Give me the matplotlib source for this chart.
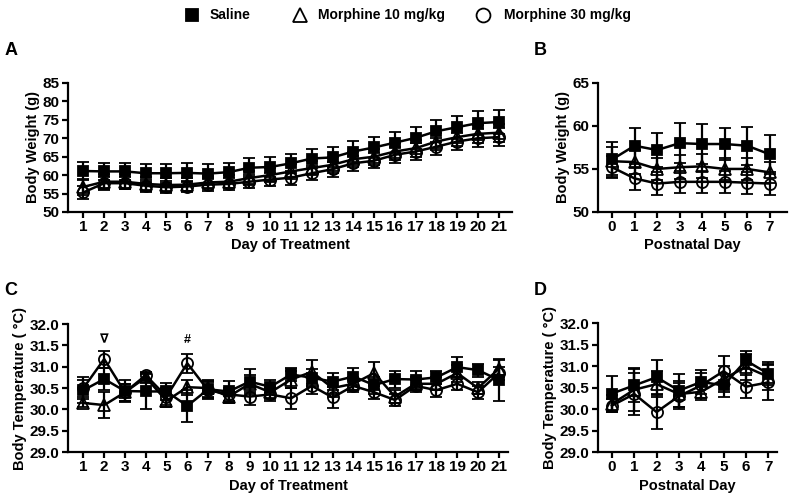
import matplotlib.pyplot as plt
from matplotlib.lines import Line2D
import numpy as np

plt.rcParams['font.family'] = ['Liberation Sans', 'DejaVu Sans']
plt.rcParams['font.weight'] = 'bold'

# ---- data ----
days_t = list(range(1, 22))
days_p = list(range(0, 8))

# A: body weight during treatment (g)
sal_w = [61.1, 61.0, 61.0, 60.5, 60.5, 60.6, 60.4, 60.8, 62.0, 62.2, 63.2, 64.5, 64.8,
         66.4, 67.5, 68.8, 70.1, 71.9, 73.0, 74.1, 74.4]
sal_w_err = [2.4, 2.3, 2.3, 2.4, 2.6, 2.6, 2.6, 2.6, 2.6, 2.6, 2.6, 2.7, 2.7,
             2.8, 2.9, 2.9, 3.0, 3.0, 3.1, 3.2, 3.3]
m10_w = [56.8, 58.2, 58.2, 57.6, 57.3, 57.4, 58.0, 58.2, 59.2, 60.0, 61.0, 61.9, 62.8,
         64.3, 65.0, 66.4, 67.3, 69.1, 70.3, 71.2, 71.5]
m10_w_err = [2.2, 2.0, 2.0, 1.8, 1.8, 1.8, 1.8, 1.8, 2.0, 2.0, 2.0, 2.0, 2.1,
             2.1, 2.2, 2.2, 2.3, 2.3, 2.4, 2.4, 2.5]
m30_w = [55.3, 57.8, 57.8, 57.1, 56.7, 56.9, 57.4, 57.6, 58.2, 58.8, 59.3, 60.5, 61.6,
         63.2, 63.9, 65.5, 66.4, 67.7, 69.1, 70.0, 70.3]
m30_w_err = [1.8, 1.8, 1.7, 1.6, 1.6, 1.6, 1.7, 1.7, 1.8, 1.8, 1.9, 1.9, 2.0,
             2.0, 2.0, 2.1, 2.2, 2.3, 2.4, 2.5, 2.5]

# B: body weight postnatal (g)
sal_pw = [56.1, 57.7, 57.2, 58.0, 57.9, 57.9, 57.7, 56.7]
sal_pw_err = [2.0, 2.1, 2.0, 2.3, 2.3, 1.9, 2.2, 2.3]
m10_pw = [55.9, 55.8, 55.0, 55.2, 55.3, 55.0, 55.0, 54.6]
m10_pw_err = [1.6, 1.4, 1.3, 1.4, 1.4, 1.3, 1.3, 1.2]
m30_pw = [55.2, 53.9, 53.3, 53.5, 53.5, 53.5, 53.4, 53.3]
m30_pw_err = [1.3, 1.3, 1.3, 1.3, 1.3, 1.3, 1.3, 1.3]

# C: body temperature during treatment (deg C)
sal_t = [30.45, 30.71, 30.43, 30.42, 30.42, 30.08, 30.47, 30.42, 30.65, 30.53, 30.82,
         30.74, 30.65, 30.77, 30.57, 30.71, 30.70, 30.75, 30.99, 30.92, 30.69]
sal_t_err = [0.30, 0.25, 0.25, 0.42, 0.20, 0.38, 0.20, 0.25, 0.30, 0.15, 0.15,
             0.20, 0.20, 0.20, 0.20, 0.20, 0.20, 0.15, 0.24, 0.15, 0.50]
m10_t = [30.15, 30.10, 30.40, 30.75, 30.20, 30.52, 30.50, 30.30, 30.60, 30.40, 30.70,
         30.88, 30.50, 30.60, 30.85, 30.30, 30.60, 30.60, 30.85, 30.50, 30.95]
m10_t_err = [0.10, 0.30, 0.20, 0.10, 0.15, 0.18, 0.20, 0.15, 0.20, 0.15, 0.20,
             0.28, 0.20, 0.15, 0.25, 0.15, 0.15, 0.15, 0.20, 0.15, 0.20]
m30_t = [30.50, 31.18, 30.40, 30.80, 30.30, 31.08, 30.45, 30.35, 30.30, 30.35, 30.26,
         30.55, 30.28, 30.55, 30.40, 30.22, 30.55, 30.45, 30.60, 30.40, 30.85]
m30_t_err = [0.20, 0.20, 0.20, 0.08, 0.20, 0.22, 0.20, 0.15, 0.20, 0.15, 0.25,
             0.20, 0.25, 0.15, 0.15, 0.15, 0.15, 0.15, 0.15, 0.15, 0.15]

# D: body temperature postnatal (deg C)
sal_pt = [30.36, 30.55, 30.74, 30.43, 30.63, 30.55, 31.13, 30.82]
sal_pt_err = [0.41, 0.39, 0.39, 0.39, 0.28, 0.27, 0.21, 0.27]
m10_pt = [30.12, 30.45, 30.58, 30.35, 30.40, 30.70, 30.98, 30.75]
m10_pt_err = [0.20, 0.50, 0.30, 0.30, 0.20, 0.30, 0.30, 0.30]
m30_pt = [30.08, 30.35, 29.93, 30.30, 30.55, 30.88, 30.52, 30.62]
m30_pt_err = [0.15, 0.50, 0.40, 0.30, 0.30, 0.35, 0.27, 0.40]

labels = ['Saline', 'Morphine 10 mg/kg', 'Morphine 30 mg/kg']

fig = plt.figure(figsize=(7.89, 4.94), dpi=100)
axA = fig.add_axes([0.086, 0.571, 0.563, 0.261])
axB = fig.add_axes([0.758, 0.571, 0.239, 0.261])
axC = fig.add_axes([0.086, 0.085, 0.558, 0.259])
axD = fig.add_axes([0.758, 0.085, 0.227, 0.261])

tick_fs = 11
lab_fs = 10.5

marker_styles = [
    dict(marker='s', ms=7, mfc='black'),
    dict(marker='^', ms=8, mfc='none'),
    dict(marker='o', ms=8, mfc='none'),
]


def draw(ax, x, series):
    for i, ((y, e), st) in enumerate(zip(series, marker_styles)):
        ax.errorbar(x, y, yerr=e, color='black', lw=1.8, marker=st['marker'],
                    ms=st['ms'], mfc=st['mfc'], mec='black', mew=1.3,
                    capsize=4, capthick=1.6, elinewidth=1.6, zorder=4 if i == 0 else 3)


def style(ax, xlabel, ylabel):
    for s in ['top', 'right']:
        ax.spines[s].set_visible(False)
    for s in ['left', 'bottom']:
        ax.spines[s].set_linewidth(1.6)
    ax.tick_params(width=1.6, length=4, labelsize=tick_fs, pad=2)
    for t in ax.get_xticklabels() + ax.get_yticklabels():
        t.set_fontweight('bold')
    ax.set_xlabel(xlabel, fontsize=lab_fs, fontweight='bold', labelpad=3)
    ax.set_ylabel(ylabel, fontsize=lab_fs, fontweight='bold', labelpad=2)


draw(axA, days_t, [(sal_w, sal_w_err), (m10_w, m10_w_err), (m30_w, m30_w_err)])
axA.set_xlim(0.25, 21.65)
axA.set_ylim(50, 85)
axA.set_xticks(days_t)
axA.set_yticks(np.arange(50, 86, 5))
style(axA, 'Day of Treatment', 'Body Weight (g)')

draw(axB, days_p, [(sal_pw, sal_pw_err), (m10_pw, m10_pw_err), (m30_pw, m30_pw_err)])
axB.set_xlim(-0.62, 7.75)
axB.set_ylim(50, 65)
axB.set_xticks(days_p)
axB.set_yticks([50, 55, 60, 65])
style(axB, 'Postnatal Day', 'Body Weight (g)')

draw(axC, days_t, [(sal_t, sal_t_err), (m10_t, m10_t_err), (m30_t, m30_t_err)])
axC.set_xlim(0.25, 21.45)
axC.set_ylim(29.0, 32.0)
axC.set_xticks(days_t)
axC.set_yticks(np.arange(29.0, 32.01, 0.5))
axC.yaxis.set_major_formatter(plt.FormatStrFormatter('%.1f'))
style(axC, 'Day of Treatment', 'Body Temperature ( °C)')
axC.text(2, 31.62, '∇', ha='center', va='center', fontsize=9)
axC.text(6, 31.62, '#', ha='center', va='center', fontsize=9, fontweight='bold')

draw(axD, days_p, [(sal_pt, sal_pt_err), (m10_pt, m10_pt_err), (m30_pt, m30_pt_err)])
axD.set_xlim(-0.62, 7.4)
axD.set_ylim(29.0, 32.0)
axD.set_xticks(days_p)
axD.set_yticks(np.arange(29.0, 32.01, 0.5))
axD.yaxis.set_major_formatter(plt.FormatStrFormatter('%.1f'))
style(axD, 'Postnatal Day', 'Body Temperature ( °C)')

# panel letters
for x, y, s in [(0.006, 0.897, 'A'), (0.676, 0.897, 'B'), (0.006, 0.412, 'C'), (0.676, 0.412, 'D')]:
    fig.text(x, y, s, fontsize=13, fontweight='bold', va='center')

# legend across the top (markers only, no line)
W, H = 789, 494
leg_y = 1 - 15 / H
for (mx, tx), st, lab in zip([(192, 210), (300, 318), (483, 504)], marker_styles, labels):
    fig.add_artist(Line2D([mx / W], [leg_y], transform=fig.transFigure, ls='none',
                          marker=st['marker'], ms=st['ms'] + 2, mfc=st['mfc'],
                          mec='black', mew=1.3))
    fig.text(tx / W, leg_y, lab, fontsize=10, fontweight='bold', va='center', ha='left')

fig.savefig('out.png', dpi=100)
